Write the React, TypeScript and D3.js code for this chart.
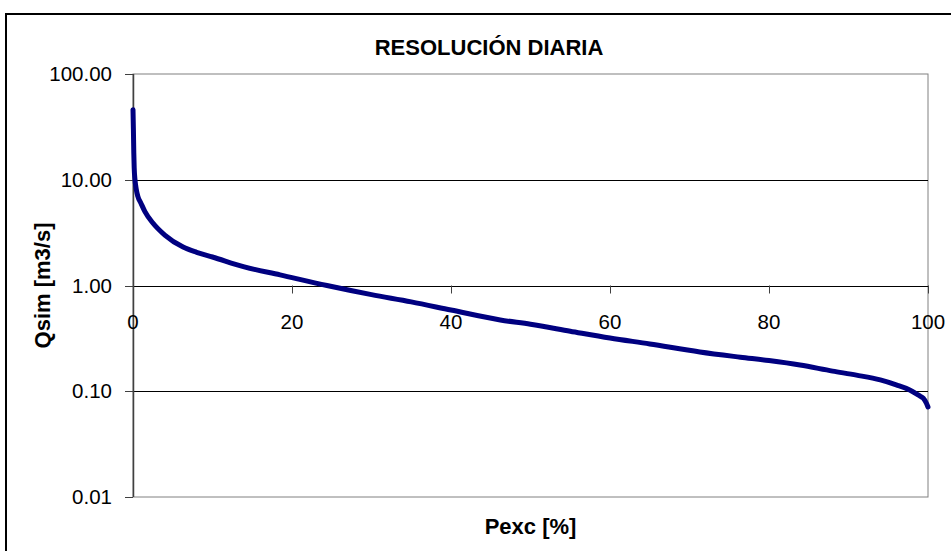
import React from 'react';
import * as d3 from 'd3';

// exceedance probability [%] and simulated daily flow [m3/s]
const pexc = [0, 0.05, 0.1, 0.15, 0.25, 0.4, 0.6, 1, 1.5, 2.5, 4, 6.3, 8, 10, 14, 18.5, 24.4, 30, 35, 40, 46.2, 50, 55, 60, 65, 71.3, 76.4, 80, 83.9, 88, 91, 94, 96, 97.7, 99, 99.4, 99.8, 100];
const qsim = [46, 30, 18, 13, 10, 8.2, 7, 6.0, 5.0, 3.9, 3.0, 2.31, 2.06, 1.86, 1.5, 1.26, 1.0, 0.82, 0.7, 0.586, 0.472, 0.43, 0.37, 0.319, 0.28, 0.235, 0.21, 0.195, 0.177, 0.155, 0.142, 0.128, 0.115, 0.103, 0.09, 0.086, 0.077, 0.071];

const yTicks = [0.01, 0.1, 1, 10, 100];
const xTicks = [0, 20, 40, 60, 80, 100];

const title = 'RESOLUCIÓN DIARIA';
const xTitle = 'Pexc [%]';
const yTitle = 'Qsim [m3/s]';

const font = '"Liberation Sans", Arial, sans-serif';

export default function App() {
  const width = 951;
  const height = 551;
  const left = 133, right = 928, top = 74, bottom = 497;

  const x = d3.scaleLinear([0, 100], [left, right]);
  const y = d3.scaleLog([0.01, 100], [bottom, top]);

  const line = d3.line<number>()
    .x((_, i) => x(pexc[i]))
    .y(d => y(d))
    .curve(d3.curveMonotoneX);

  const yAxis = y(1);

  return (
    <svg width={width} height={height} style={{ position: 'absolute', left: 0, top: 0, background: '#fff' }} fontFamily={font}>
      <rect x={0} y={0} width={width} height={height} fill="#fff" />
      {/* chart area border, runs off the picture at right and bottom */}
      <rect x={6} y={14} width={980} height={580} fill="none" stroke="#000" strokeWidth={2} />

      <text x={489} y={55} textAnchor="middle" fontWeight="bold" fontSize={22}>{title}</text>

      {/* plot area frame */}
      <rect x={left} y={top} width={right - left} height={bottom - top} fill="none" stroke="#808080" strokeWidth={1} />

      {/* gridlines */}
      {yTicks.filter(t => t > 0.01 && t < 100).map(t => (
        <line key={t} x1={left} x2={right} y1={Math.round(y(t)) + 0.5} y2={Math.round(y(t)) + 0.5} stroke="#000" strokeWidth={1} />
      ))}

      {/* y axis */}
      <line x1={left + 0.5} x2={left + 0.5} y1={top} y2={bottom} stroke="#404040" strokeWidth={1.5} />
      {yTicks.map(t => (
        <g key={t}>
          <line x1={left - 8} x2={left} y1={Math.round(y(t)) + 0.5} y2={Math.round(y(t)) + 0.5} stroke="#404040" strokeWidth={1} />
          <text x={112} y={y(t) + 7} textAnchor="end" fontSize={20.5}>{t.toFixed(2)}</text>
        </g>
      ))}

      {/* x axis crossing at 1.00 */}
      {xTicks.map(t => (
        <g key={t}>
          <line x1={Math.round(x(t)) + 0.5} x2={Math.round(x(t)) + 0.5} y1={yAxis} y2={yAxis + 8} stroke="#404040" strokeWidth={1} />
          <text x={x(t)} y={329} textAnchor="middle" fontSize={20.5}>{t}</text>
        </g>
      ))}

      <path d={line(qsim) ?? ''} fill="none" stroke="#000080" strokeWidth={5} strokeLinejoin="round" strokeLinecap="round" />

      <text x={(left + right) / 2} y={534} textAnchor="middle" fontWeight="bold" fontSize={22}>{xTitle}</text>
      <text transform={`translate(50,${(top + bottom) / 2}) rotate(-90)`} textAnchor="middle" fontWeight="bold" fontSize={22}>{yTitle}</text>
    </svg>
  );
}
